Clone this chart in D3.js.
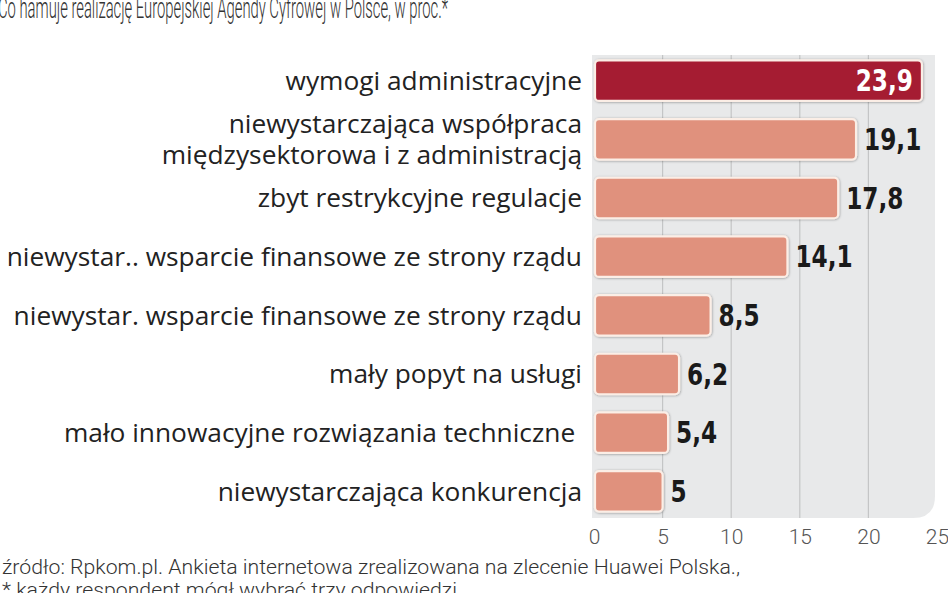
<!DOCTYPE html>
<html><head><meta charset="utf-8">
<script src="https://cdn.jsdelivr.net/npm/d3@7"></script>
<style>html,body{margin:0;padding:0;background:#fff;overflow:hidden}</style>
</head><body>
<svg id="c" width="948" height="593"></svg>
<script>
const categories = [
  ["wymogi administracyjne"],
  ["niewystarczająca współpraca", "międzysektorowa i z administracją"],
  ["zbyt restrykcyjne regulacje"],
  ["niewystar.. wsparcie finansowe ze strony rządu"],
  ["niewystar. wsparcie finansowe ze strony rządu"],
  ["mały popyt na usługi"],
  ["mało innowacyjne rozwiązania techniczne "],
  ["niewystarczająca konkurencja"]
];
const values = [23.9, 19.1, 17.8, 14.1, 8.5, 6.2, 5.4, 5];
const valueLabels = ["23,9", "19,1", "17,8", "14,1", "8,5", "6,2", "5,4", "5"];
const ticks = [0, 5, 10, 15, 20, 25];
const title = "Co hamuje realizację Europejskiej Agendy Cyfrowej w Polsce, w proc.*";
const source = "źródło: Rpkom.pl. Ankieta internetowa zrealizowana na zlecenie Huawei Polska.,";
const note = "* każdy respondent mógł wybrać trzy odpowiedzi";

const svg = d3.select("#c");
const x = d3.scaleLinear().domain([0, 25]).range([594, 937]);
const y = d3.scaleBand().domain(d3.range(values.length)).range([51, 521]).paddingInner(0.31).paddingOuter(0.16);

// panel
const px0 = 592, px1 = 935, py0 = 55, py1 = 518, r = 22;
svg.append("path")
  .attr("d", `M${px0},${py0}H${px1}V${py1-r}Q${px1},${py1} ${px1-r},${py1}H${px0}Z`)
  .attr("fill", "#e8e9ea");

// gridlines
svg.append("g").selectAll("line").data(ticks.filter(t => t > 0 && t < 25)).join("line")
  .attr("x1", d => x(d)).attr("x2", d => x(d))
  .attr("y1", py0).attr("y2", py1)
  .attr("stroke", "#c4c5c6").attr("stroke-width", 1.2);

// tick labels
const axis = d3.axisBottom(x).tickValues(ticks).tickSize(0).tickPadding(0).tickFormat(d3.format("d"));
const ag = svg.append("g").attr("transform", `translate(0,${py1 + 10})`).call(axis);
ag.select(".domain").remove();
ag.selectAll("text").attr("font-family", "Roboto, sans-serif").attr("font-weight", 300)
  .attr("font-size", 21).attr("fill", "#555").attr("dy", "0.75em");

// bars
const defs = svg.append("defs");
const f = defs.append("filter").attr("id", "sh").attr("x", "-5%").attr("y", "-20%").attr("width", "110%").attr("height", "140%");
f.append("feDropShadow").attr("dx", 0.5).attr("dy", 0.5).attr("stdDeviation", 1).attr("flood-color", "#000").attr("flood-opacity", 0.35);

svg.append("g").selectAll("rect").data(values).join("rect")
  .attr("x", x(0) + 1)
  .attr("y", (d, i) => y(i))
  .attr("width", d => x(d) - x(0) - 1)
  .attr("height", y.bandwidth())
  .attr("rx", 4)
  .attr("fill", (d, i) => i === 0 ? "#a51b30" : "#e0917d")
  .attr("stroke", "#fbeee6").attr("stroke-width", 2.2)
  .attr("filter", "url(#sh)");

// value labels
svg.append("g").selectAll("text").data(values).join("text")
  .attr("transform", (d, i) => `translate(${i === 0 ? x(d) - 9 : x(d) + 8},${y(i) + y.bandwidth() / 2}) scale(0.86,1)`)
  .attr("dy", "0.36em")
  .attr("text-anchor", (d, i) => i === 0 ? "end" : "start")
  .attr("font-family", "'DejaVu Sans Condensed', 'DejaVu Sans', sans-serif")
  .attr("font-stretch", "condensed")
  .attr("font-weight", "bold").attr("font-size", 30)
  .attr("fill", (d, i) => i === 0 ? "#fff" : "#1a1a1a")
  .text((d, i) => valueLabels[i]);

// category labels
svg.append("g").selectAll("text").data(categories).join("text")
  .attr("x", 582)
  .attr("text-anchor", "end")
  .attr("font-family", "'Open Sans', sans-serif")
  .attr("font-size", 26.3).attr("fill", "#222")
  .attr("xml:space", "preserve")
  .style("white-space", "pre")
  .each(function(lines, i) {
    const cy = y(i) + y.bandwidth() / 2;
    const lh = 31;
    const t = d3.select(this);
    lines.forEach((ln, k) => {
      t.append("tspan").attr("x", 582)
        .attr("y", cy + (k - (lines.length - 1) / 2) * lh)
        .attr("dy", "0.35em").text(ln);
    });
  });

// title
svg.append("text").attr("x", -2).attr("y", 18)
  .attr("font-family", "Roboto, sans-serif").attr("font-weight", 300)
  .attr("font-size", 30).attr("fill", "#333")
  .attr("textLength", 450).attr("lengthAdjust", "spacingAndGlyphs")
  .text(title);

// footer
svg.append("text").attr("x", 2).attr("y", 574)
  .attr("font-family", "Roboto, sans-serif").attr("font-weight", 300)
  .attr("font-size", 21).attr("fill", "#333")
  .attr("textLength", 738).attr("lengthAdjust", "spacingAndGlyphs")
  .text(source);
svg.append("text").attr("x", 2).attr("y", 597)
  .attr("font-family", "Roboto, sans-serif").attr("font-weight", 300)
  .attr("font-size", 21).attr("fill", "#333")
  .attr("textLength", 455).attr("lengthAdjust", "spacingAndGlyphs")
  .text(note);
</script>
</body></html>
